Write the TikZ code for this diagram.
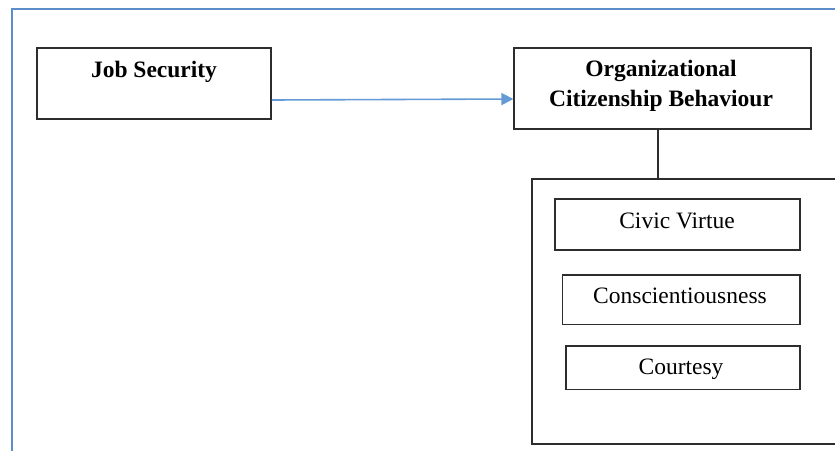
\documentclass[tikz,border=0pt]{standalone}
\usepackage{fontspec}
\setmainfont{Liberation Serif}
\usetikzlibrary{arrows.meta}
\definecolor{frameblue}{RGB}{91,143,201}
\definecolor{arrowblue}{RGB}{100,155,215}
\definecolor{boxline}{RGB}{45,45,45}
\tikzset{
  box/.style={draw=boxline, line width=1.7pt, inner sep=0pt},
  lbl/.style={anchor=base, inner sep=0pt, font=\fontsize{23.5}{30}\selectfont},
  blbl/.style={lbl, font=\fontsize{23.5}{30}\selectfont\bfseries},
  conn/.style={draw=boxline, line width=1.7pt},
  arr/.style={draw=arrowblue, line width=1.6pt, -{Triangle[length=12pt,width=12pt]}}
}
\begin{document}
\begin{tikzpicture}[x=1pt,y=-1pt]
\useasboundingbox (0,0) rectangle (835,450);
\fill[white] (0,0) rectangle (835,450);
% outer blue frame (runs past the right and bottom edges)
\draw[frameblue, line width=1.8pt] (12,460) -- (12,9) -- (850,9);
% boxes
\node[box, minimum width=234pt, minimum height=71pt] (js) at (154,83.5) {};
\node[box, minimum width=296.5pt, minimum height=81pt] (ocb) at (662.5,88.8) {};
\node[box, minimum width=313pt, minimum height=265pt] (cont) at (688.5,311.5) {};
\node[box, minimum width=245pt, minimum height=51pt] (cv) at (677.5,224.7) {};
\node[box, minimum width=237.5pt, minimum height=49.5pt] (cs) at (681.2,299.7) {};
\node[box, minimum width=234pt, minimum height=43.5pt] (ct) at (683,367.7) {};
% texts
\node[blbl] (jst) at (154,77) {Job Security};
\node[blbl] (ocbt1) at (661,76) {Organizational};
\node[blbl] (ocbt2) at (661,106) {Citizenship Behaviour};
\node[lbl] (cvt) at (677,228) {Civic Virtue};
\node[lbl] (cst) at (680,303) {Conscientiousness};
\node[lbl] (ctt) at (681,374) {Courtesy};
% connectors
\draw[arr] (js.east |- 0,100) -- (ocb.west |- 0,99);
\draw[conn] (ocb.south -| 658,0) -- (cont.north -| 658,0);
\end{tikzpicture}
\end{document}
